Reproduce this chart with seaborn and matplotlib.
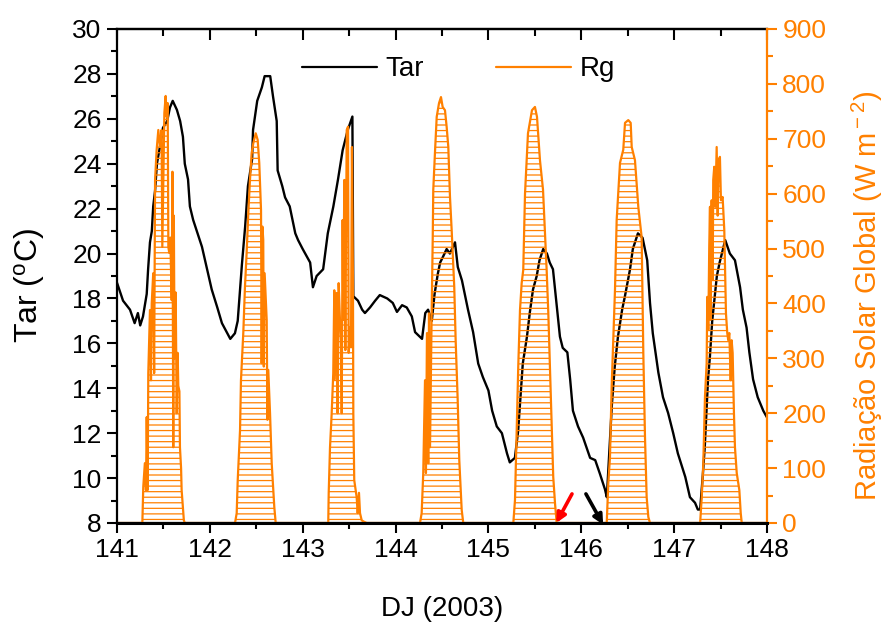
import matplotlib
matplotlib.use("Agg")
import matplotlib.pyplot as plt
import seaborn as sns
from matplotlib.ticker import MultipleLocator
from matplotlib.lines import Line2D

# ---------------- data ----------------
tar_day = [141.00, 141.065, 141.14, 141.19, 141.225, 141.25, 141.28, 141.32, 141.335, 141.355,
           141.375, 141.39, 141.41, 141.43, 141.46, 141.495, 141.54, 141.57, 141.60, 141.645,
           141.68, 141.71, 141.73, 141.765, 141.785, 141.82, 141.86, 141.915, 141.97, 142.02,
           142.08, 142.13, 142.22, 142.27, 142.30, 142.325, 142.345, 142.38, 142.41, 142.455,
           142.465, 142.51, 142.56, 142.59, 142.65, 142.68, 142.72, 142.73, 142.78, 142.81,
           142.86, 142.92, 142.95, 143.00, 143.08, 143.11, 143.15, 143.22, 143.27, 143.33,
           143.38, 143.43, 143.485, 143.535, 143.545, 143.595, 143.64, 143.67, 143.725, 143.78,
           143.83, 143.91, 143.97, 144.015, 144.07, 144.12, 144.175, 144.21, 144.285, 144.32,
           144.35, 144.39, 144.42, 144.455, 144.48, 144.51, 144.55, 144.585, 144.64, 144.67,
           144.715, 144.75, 144.78, 144.835, 144.89, 144.94, 145.00, 145.04, 145.09, 145.145,
           145.20, 145.23, 145.285, 145.32, 145.34, 145.37, 145.415, 145.445, 145.48, 145.52,
           145.55, 145.59, 145.63, 145.66, 145.695, 145.74, 145.77, 145.80, 145.85, 145.88,
           145.91, 145.965, 146.02, 146.095, 146.15, 146.20, 146.255, 146.275, 146.31, 146.33,
           146.36, 146.395, 146.44, 146.47, 146.525, 146.555, 146.61, 146.66, 146.71, 146.74,
           146.77, 146.83, 146.88, 146.935, 146.99, 147.04, 147.12, 147.17, 147.225, 147.255,
           147.28, 147.31, 147.33, 147.365, 147.385, 147.41, 147.44, 147.46, 147.49, 147.55,
           147.60, 147.655, 147.71, 147.74, 147.78, 147.81, 147.85, 147.90, 147.96, 148.00]
tar_val = [18.7, 17.9, 17.5, 16.9, 17.35, 16.8, 17.2, 18.2, 19.3, 20.5,
           21.0, 22.1, 22.8, 24.0, 24.7, 25.6, 25.9, 26.5, 26.8, 26.4,
           25.9, 25.2, 24.0, 23.3, 22.1, 21.5, 21.0, 20.3, 19.3, 18.4,
           17.6, 16.9, 16.2, 16.45, 17.0, 18.4, 19.5, 21.2, 23.0, 24.2,
           25.5, 26.8, 27.4, 27.9, 27.9, 27.0, 25.9, 23.7, 23.0, 22.5,
           22.1, 20.9, 20.6, 20.2, 19.6, 18.5, 19.0, 19.3, 20.9, 22.1,
           23.3, 24.6, 25.5, 26.1, 18.1, 17.9, 17.5, 17.35, 17.6, 17.9,
           18.15, 18.0, 17.8, 17.4, 17.7, 17.6, 17.2, 16.5, 16.2, 17.35,
           17.5, 17.0, 18.2, 19.1, 19.6, 19.85, 20.2, 20.0, 20.5, 19.4,
           18.8, 18.1, 17.5, 16.5, 15.1, 14.5, 13.9, 13.0, 12.3, 12.0,
           11.1, 10.7, 10.9, 12.1, 13.3, 15.1, 16.3, 17.35, 18.4, 19.0,
           19.7, 20.2, 20.0, 19.6, 19.3, 17.5, 16.3, 15.8, 15.6, 14.4,
           13.0, 12.3, 11.8, 10.9, 10.8, 10.2, 9.5, 9.15, 11.8, 13.3,
           14.95, 16.3, 17.5, 18.1, 19.3, 20.2, 20.9, 20.7, 19.7, 17.8,
           16.45, 14.7, 13.6, 12.9, 12.0, 11.1, 10.05, 9.15, 8.9, 8.6,
           8.6, 10.2, 11.4, 14.4, 15.4, 17.0, 18.2, 19.0, 19.6, 20.6,
           20.0, 19.7, 18.5, 17.5, 16.7, 15.6, 14.4, 13.6, 13.0, 12.7]

rg141_day = [141.273, 141.283, 141.300, 141.312, 141.320, 141.330, 141.337, 141.355, 141.366, 141.374,
             141.390, 141.400, 141.410, 141.427, 141.445, 141.463, 141.480, 141.488, 141.510, 141.524,
             141.535, 141.546, 141.553, 141.563, 141.574, 141.589, 141.597, 141.606, 141.612, 141.620,
             141.632, 141.643, 141.653, 141.660, 141.672, 141.678, 141.690, 141.696, 141.720, 141.730]
rg141_val = [0, 66, 109, 60, 193, 60, 273, 388, 260, 400,
             455, 273, 625, 680, 716, 685, 716, 503, 747, 778,
             740, 765, 503, 492, 520, 406, 640, 138, 560, 300,
             420, 200, 310, 250, 240, 138, 100, 60, 5, 0]

rg142_day = [142.271, 142.289, 142.300, 142.325, 142.335, 142.360, 142.378, 142.396, 142.414, 142.432,
             142.450, 142.468, 142.494, 142.515, 142.532, 142.551, 142.558, 142.566, 142.575, 142.581,
             142.590, 142.612, 142.620, 142.629, 142.648, 142.666, 142.694, 142.709]
rg142_val = [0, 18, 78, 169, 260, 346, 430, 492, 565, 625,
             674, 692, 710, 698, 656, 570, 291, 540, 516, 285,
             455, 370, 188, 279, 200, 109, 29, 0]

rg143_day = [143.275, 143.280, 143.294, 143.312, 143.329, 143.340, 143.345, 143.366, 143.376, 143.387,
             143.401, 143.412, 143.420, 143.430, 143.437, 143.448, 143.459, 143.474, 143.488, 143.495,
             143.509, 143.520, 143.530, 143.541, 143.545, 143.555, 143.570, 143.581, 143.592, 143.606,
             143.617, 143.635, 143.652, 143.689]
rg143_val = [0, 55, 138, 200, 273, 424, 262, 419, 200, 437,
             370, 333, 200, 552, 370, 625, 315, 716, 722, 310,
             357, 320, 685, 443, 200, 78, 60, 47, 18, 55,
             18, 5, 3, 0]

rg144_day = [144.263, 144.281, 144.298, 144.317, 144.327, 144.338, 144.352, 144.360, 144.371, 144.389,
             144.400, 144.406, 144.424, 144.443, 144.468, 144.489, 144.507, 144.532, 144.550, 144.568,
             144.586, 144.604, 144.632, 144.647, 144.669, 144.686, 144.712, 144.729]
rg144_val = [0, 18, 91, 260, 91, 346, 109, 382, 138, 388,
             516, 607, 674, 740, 765, 776, 758, 752, 722, 685,
             594, 534, 430, 333, 224, 115, 24, 0]

rg145_day = [145.268, 145.286, 145.304, 145.321, 145.340, 145.358, 145.375, 145.394, 145.426, 145.469,
             145.501, 145.523, 145.555, 145.588, 145.627, 145.645, 145.663, 145.682, 145.698, 145.717,
             145.735]
rg145_val = [0, 42, 164, 284, 388, 437, 461, 600, 710, 752,
             758, 740, 661, 607, 461, 382, 279, 169, 84, 36,
             0]

rg146_day = [146.274, 146.291, 146.309, 146.327, 146.345, 146.363, 146.381, 146.417, 146.452, 146.471,
             146.506, 146.532, 146.543, 146.578, 146.614, 146.650, 146.668, 146.686, 146.704, 146.722,
             146.740]
rg146_val = [0, 73, 120, 248, 339, 425, 552, 656, 680, 729,
             734, 729, 685, 661, 576, 521, 310, 157, 47, 11,
             0]

rg147_day = [147.280, 147.297, 147.314, 147.332, 147.350, 147.357, 147.368, 147.378, 147.386, 147.392,
             147.404, 147.415, 147.421, 147.432, 147.443, 147.458, 147.469, 147.479, 147.493, 147.504,
             147.522, 147.540, 147.558, 147.572, 147.583, 147.594, 147.609, 147.619, 147.630, 147.644,
             147.655, 147.674, 147.702, 147.717, 147.728]
rg147_val = [0, 47, 109, 230, 291, 412, 352, 503, 576, 370,
             588, 443, 625, 649, 576, 685, 560, 661, 667, 588,
             594, 534, 382, 346, 333, 346, 260, 333, 310, 200,
             138, 91, 60, 18, 0]

series_labels = ["Tar", "Rg"]
x_ticks = [141, 142, 143, 144, 145, 146, 147, 148]
# annotation arrows (tail -> head), in (DJ, Rg) units
arrow_colors = ["red", "black"]
arrow_tail = [(145.90, 53), (146.05, 53)]
arrow_head = [(145.73, 0), (146.235, -3)]

# ---------------- style ----------------
ORANGE = "#FF8000"
sns.set_theme(style="ticks")
plt.rcParams["font.family"] = ["Liberation Sans", "DejaVu Sans"]
plt.rcParams["mathtext.fontset"] = "custom"
plt.rcParams["mathtext.rm"] = "Liberation Sans"
plt.rcParams["mathtext.it"] = "Liberation Sans:italic"
plt.rcParams["mathtext.bf"] = "Liberation Sans:bold"
plt.rcParams["hatch.linewidth"] = 0.9
plt.rcParams["text.color"] = "black"
plt.rcParams["axes.labelcolor"] = "black"
plt.rcParams["xtick.color"] = "black"
plt.rcParams["ytick.color"] = "black"

rg_day = [141.0]
rg_val = [0]
for d, v in [(rg141_day, rg141_val), (rg142_day, rg142_val), (rg143_day, rg143_val),
             (rg144_day, rg144_val), (rg145_day, rg145_val), (rg146_day, rg146_val),
             (rg147_day, rg147_val)]:
    rg_day += d
    rg_val += v
rg_day.append(148.0)
rg_val.append(0)

fig = plt.figure(figsize=(8.85, 6.24), dpi=100)
ax = fig.add_axes([117 / 885, 1 - 523 / 624, 650 / 885, 494 / 624])

sns.lineplot(x=tar_day, y=tar_val, ax=ax, color="black", linewidth=1.7,
             sort=False, estimator=None)
ax.set_xlim(141, 148)
ax.set_ylim(8, 30)
ax.set_xticks(x_ticks)
ax.xaxis.set_minor_locator(MultipleLocator(0.5))
ax.yaxis.set_major_locator(MultipleLocator(2))
ax.yaxis.set_minor_locator(MultipleLocator(1))
ax.tick_params(which="major", direction="out", length=7, width=1.5, labelsize=19,
               colors="black", pad=4)
ax.tick_params(which="minor", direction="out", length=4, width=1.5)
ax.tick_params(axis="y", right=False, which="both")
ax.tick_params(axis="x", top=False, which="both")
for s in ["left", "bottom", "top"]:
    ax.spines[s].set_linewidth(1.6)
    ax.spines[s].set_color("black")
ax.spines["right"].set_visible(False)
ax.set_xlabel("DJ (2003)", fontsize=20, labelpad=24, color="black")
ax.set_ylabel("Tar ($^{\\rm o}$C)", fontsize=23, color="black")
ax.yaxis.set_label_coords(-0.108, 0.48)

top = ax.secondary_xaxis("top")
top.set_xticks(x_ticks)
top.xaxis.set_minor_locator(MultipleLocator(0.5))
top.tick_params(which="major", direction="in", length=8, width=1.5, labeltop=False,
                colors="black")
top.tick_params(which="minor", direction="in", length=5, width=1.5, colors="black")
top.spines["top"].set_linewidth(1.6)
top.spines["top"].set_color("black")

ax2 = ax.twinx()
ax2.fill_between(rg_day, 0, rg_val, facecolor="none", edgecolor=ORANGE,
                 hatch="---", linewidth=0)
sns.lineplot(x=rg_day, y=rg_val, ax=ax2, color=ORANGE, linewidth=1.6,
             sort=False, estimator=None)
ax2.set_ylim(0, 900)
ax2.yaxis.set_major_locator(MultipleLocator(100))
ax2.yaxis.set_minor_locator(MultipleLocator(50))
ax2.tick_params(axis="y", which="major", direction="out", length=7, width=1.5,
                labelsize=19, colors=ORANGE, pad=4)
ax2.tick_params(axis="y", which="minor", direction="out", length=4, width=1.5, colors=ORANGE)
ax2.spines["right"].set_color(ORANGE)
ax2.spines["right"].set_linewidth(1.6)
ax2.spines["bottom"].set_color("black")
ax2.spines["bottom"].set_linewidth(2.2)
for s in ["left", "top"]:
    ax2.spines[s].set_visible(False)
ax2.set_ylabel("Radiação Solar Global (W m$^{\\rm -2}$)", fontsize=21, color=ORANGE)
ax2.yaxis.set_label_coords(1.128, 0.46)

for c, t, h in zip(arrow_colors, arrow_tail, arrow_head):
    ax2.annotate("", xy=h, xytext=t, annotation_clip=False,
                 arrowprops=dict(arrowstyle="-|>", color=c, lw=2.6, mutation_scale=14,
                                 shrinkA=0, shrinkB=0))

handles = [Line2D([], [], color="black", lw=1.6), Line2D([], [], color=ORANGE, lw=1.6)]
leg = ax2.legend(handles, series_labels, loc="upper center", bbox_to_anchor=(0.525, 0.995),
                 ncol=2, frameon=False, fontsize=20, handlelength=2.7, handletextpad=0.3,
                 columnspacing=2.6)
for txt in leg.get_texts():
    txt.set_color("black")

fig.savefig("out.png", dpi=100)
